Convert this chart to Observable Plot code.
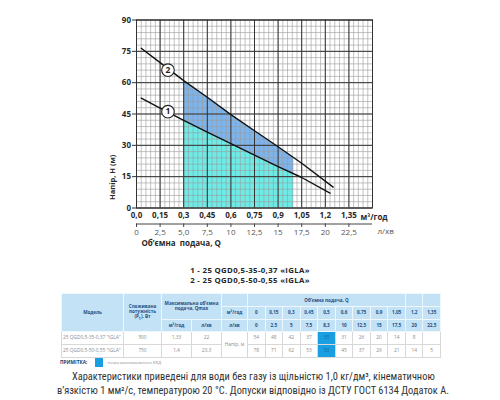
<!DOCTYPE html>
<html>
<head>
<meta charset="utf-8">
<script src="https://cdn.jsdelivr.net/npm/d3@7"></script>
<script src="https://cdn.jsdelivr.net/npm/@observablehq/plot@0.6"></script>
<style>
  html, body { margin: 0; padding: 0; background: #fff; }
  #page { position: relative; width: 500px; height: 400px; overflow: hidden; font-family: "Open Sans", sans-serif; }
  #chart { position: absolute; left: 0; top: 0; }
  #ttl { position: absolute; left: 0; top: 264.5px; width: 500px; text-align: center; font-weight: 700; font-size: 7.8px; letter-spacing: 0.35px; color: #262626; line-height: 10.7px; white-space: nowrap; }
  #spec { position: absolute; left: 61px; top: 293px; width: 379px; border-collapse: collapse; table-layout: fixed;
          border-top: 1.5px solid #555; border-bottom: 1.5px solid #555; }
  #spec th { background: #c4e2f5; color: #1d4f86; font-size: 4.6px; font-weight: 700; padding: 0; text-align: center;
             border: 0.6px solid #eef7fc; line-height: 5px; overflow: hidden; }
  #spec td { background: #fff; color: #8a8a8a; font-size: 4.8px; padding: 0; text-align: center; height: 12px;
             border: 0.5px solid #d8d8d8; line-height: 5px; overflow: hidden; white-space: nowrap; }
  #spec td.mdl { text-align: left; padding-left: 1px; }
  #spec td.hl { background: #1a9ee2; color: #1a5f9a; }
  #spec tr.h1 th { height: 12px; }
  #spec tr.h2 th { height: 11.5px; }
  #spec tr.h3 th { height: 11px; }
  #note { position: absolute; left: 60px; top: 360px; font-size: 4.8px; line-height: 5px; font-weight: 700; color: #23406e; }
  #sq { position: absolute; left: 95px; top: 358px; width: 8px; height: 9px; background: #1a9ee2; }
  #notetxt { position: absolute; left: 105px; top: 360px; font-size: 4.2px; line-height: 5px; color: #888; }
  .para { position: absolute; font-family: "Liberation Sans Narrow", "Roboto Condensed", "Roboto", sans-serif; font-size: 10.4px; line-height: 12px;
          color: #333; text-align: justify; text-align-last: justify; white-space: nowrap; }
</style>
</head>
<body>
<div id="page">
  <div id="chart"></div>
  <div id="ttl"></div>
  <table id="spec"></table>
  <div id="note">ПРИМІТКА:</div>
  <div id="sq"></div>
  <div id="notetxt">- точка максимального ККД</div>
  <div class="para" style="left:72px; width:361px; top:371px">Характеристики приведені для води без газу із щільністю 1,0 кг/дм³, кінематичною</div>
  <div class="para" style="left:57px; width:376px; top:385px">в’язкістю 1 мм²/с, температурою 20 °С. Допуски відповідно із ДСТУ ГОСТ 6134 Додаток А.</div>
</div>
<script>
// ---- Chart data ----
const q1 = [0.03, 0.15, 0.3, 0.45, 0.6, 0.75, 0.9, 1.05, 1.23];
const h1 = [52.6, 47.8, 42.0, 36.3, 30.8, 25.3, 19.8, 14.6, 7.1];
const q2 = [0.03, 0.15, 0.3, 0.45, 0.6, 0.75, 0.9, 1.05, 1.25];
const h2 = [76.5, 69.6, 61.0, 53.0, 44.7, 37.0, 29.3, 21.4, 10.0];

// working-range band
const bandQ = [0.3, 0.45, 0.6, 0.75, 0.9, 1.0];
const bandLow = [42.0, 36.3, 30.8, 25.3, 19.8, 16.3];
const bandHigh = [61.0, 53.0, 44.7, 37.0, 29.3, 24.0];

// curve labels
const labelQ = [0.2, 0.2];
const labelH = [66.0, 46.1];
const labelText = ["2", "1"];

// ticks
const qTicks = [0, 0.15, 0.3, 0.45, 0.6, 0.75, 0.9, 1.05, 1.2, 1.35];
const qTickLabels = ["0,0", "0,15", "0,3", "0,45", "0,6", "0,75", "0,9", "1,05", "1,2", "1,35"];
const lpmTickLabels = ["0", "2,5", "5,0", "7,5", "10", "12,5", "15", "17,5", "20", "22,5"];
const hTicks = [0, 15, 30, 45, 60, 75, 90];

// titles
const modelTitles = ["1 - 25 QGD0,5-35-0,37 «IGLA»", "2 - 25 QGD0,5-50-0,55 «IGLA»"];

// ---- Table data ----
const tableQ = ["0", "0,15", "0,3", "0,45", "0,5", "0,6", "0,75", "0,9", "1,05", "1,2", "1,35"];
const tableL = ["0", "2,5", "5", "7,5", "8,3", "10", "12,5", "15", "17,5", "20", "22,5"];
const models = ['25 QGD0,5-35-0,37 "IGLA"', '25 QGD0,5-50-0,55 "IGLA"'];
const power = ["500", "750"];
const qmaxM3 = ["1,33", "1,4"];
const qmaxL = ["22", "23,3"];
const heads = [
  ["54", "48", "42", "37", "35", "31", "26", "20", "14", "8", ""],
  ["78", "71", "62", "53", "50", "45", "37", "29", "21", "14", "5"]
];
const bestIdx = 4;

// ---- Build chart ----
const curve1 = q1.map((q, i) => ({q, h: h1[i]}));
const curve2 = q2.map((q, i) => ({q, h: h2[i]}));
const band = bandQ.map((q, i) => ({q, lo: bandLow[i], hi: bandHigh[i]}));
const labels = labelQ.map((q, i) => ({q, h: labelH[i], t: labelText[i]}));

const chart = Plot.plot({
  width: 500,
  height: 250,
  marginLeft: 136,
  marginRight: 128,
  marginTop: 19.5,
  marginBottom: 42.5,
  x: {domain: [0, 1.5]},
  y: {domain: [0, 90]},
  style: {fontFamily: "Open Sans", fontSize: "8px", color: "#2a2a2a", background: "transparent", overflow: "visible"},
  marks: [
    Plot.areaY(band, {x: "q", y1: 0, y2: "lo", fill: "#6decE7", fillOpacity: 1}),
    Plot.areaY(band, {x: "q", y1: "lo", y2: "hi", fill: "#7db4ec", fillOpacity: 1}),
    Plot.gridX(d3.range(0, 1.5001, 0.03), {stroke: "#9a9a9a", strokeWidth: 0.6, strokeOpacity: 1}),
    Plot.gridY(d3.range(0, 90.001, 3), {stroke: "#9a9a9a", strokeWidth: 0.6, strokeOpacity: 1}),
    Plot.gridX(d3.range(0, 1.5001, 0.15), {stroke: "#333", strokeWidth: 1, strokeOpacity: 1}),
    Plot.gridY(hTicks, {stroke: "#333", strokeWidth: 1, strokeOpacity: 1}),
    Plot.frame({stroke: "#333", strokeWidth: 1}),
    Plot.line(curve1, {x: "q", y: "h", stroke: "#111", strokeWidth: 1.4}),
    Plot.line(curve2, {x: "q", y: "h", stroke: "#111", strokeWidth: 1.4}),
    Plot.dot(labels, {x: "q", y: "h", r: 6.3, fill: "white", stroke: "#222", strokeWidth: 1.1}),
    Plot.text(labels, {x: "q", y: "h", text: "t", fontWeight: "bold", fontSize: 8.5, fill: "#222"}),
    Plot.axisY(hTicks, {tickSize: 4, tickPadding: 1.5, fontWeight: "bold", label: null, stroke: "#333"}),
    Plot.axisX(qTicks, {tickSize: 0, tickPadding: 4, fontWeight: "bold", label: null,
      tickFormat: d => qTickLabels[qTicks.indexOf(d)]}),
    Plot.ruleY([0], {dy: 16, stroke: "#444", strokeWidth: 1}),
    Plot.axisX(qTicks, {dy: 16, tickSize: 3.5, tickPadding: 2, label: null, fill: "#555", stroke: "#444",
      tickFormat: d => lpmTickLabels[qTicks.indexOf(d)]}),
    Plot.text(["м³/год"], {frameAnchor: "bottom-right", dx: -12, dy: 9, textAnchor: "start", lineAnchor: "middle", fontWeight: "bold"}),
    Plot.text(["л/хв"], {frameAnchor: "bottom-right", dx: 5, dy: 23, textAnchor: "start", lineAnchor: "middle", fill: "#555"}),
    Plot.text(["Об’ємна  подача, Q"], {frameAnchor: "bottom-left", dx: 5, dy: 35.5, textAnchor: "start", lineAnchor: "middle", fontWeight: "bold"}),
    Plot.text(["Напір, Н (м)"], {frameAnchor: "bottom-left", dx: -24, dy: -8, rotate: -90, textAnchor: "start", lineAnchor: "middle", fontWeight: "bold", fontSize: 7.5})
  ]
});
document.getElementById("chart").appendChild(chart);

document.getElementById("ttl").innerHTML = modelTitles.join("<br>");

// ---- Build table ----
const colW = [62, 38, 30, 30, 26].concat(tableQ.map(() => 17.55));
let html = "<colgroup>" + colW.map(w => `<col style="width:${w}px">`).join("") + "</colgroup>";
html += `<tr class="h1"><th rowspan="3">Модель</th><th rowspan="3">Споживана<br>потужність<br>(P<sub style="font-size:3.5px">1</sub>), Вт</th>` +
        `<th colspan="2" rowspan="2">Максимальна об’ємна<br>подача, Qmax</th><th></th>` +
        `<th colspan="${tableQ.length - 2}">Об’ємна подача, Q</th><th></th><th></th></tr>`;
html += `<tr class="h2"><th>м³/год</th>` + tableQ.map(v => `<th>${v}</th>`).join("") + `</tr>`;
html += `<tr class="h3"><th>м³/год</th><th>л/хв</th><th>л/хв</th>` + tableL.map(v => `<th>${v}</th>`).join("") + `</tr>`;
models.forEach((m, r) => {
  html += `<tr><td class="mdl">${m}</td><td>${power[r]}</td><td>${qmaxM3[r]}</td><td>${qmaxL[r]}</td>`;
  if (r === 0) html += `<td rowspan="2">Напір, м</td>`;
  html += heads[r].map((v, i) => `<td${i === bestIdx ? ' class="hl"' : ''}>${v}</td>`).join("") + `</tr>`;
});
document.getElementById("spec").innerHTML = html;
</script>
</body>
</html>
